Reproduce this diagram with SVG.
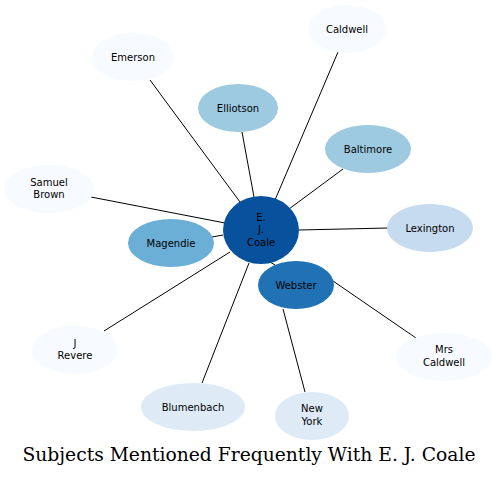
<svg xmlns="http://www.w3.org/2000/svg" width="498" height="477" viewBox="0 0 498 477">
<style>
.e{stroke:#000;stroke-width:1;fill:none}
.n text{font-family:"DejaVu Sans",sans-serif;font-size:10px;text-anchor:middle;fill:#000}
.c0{fill:#f7fbff}.c1{fill:#deebf7}.c2{fill:#c6dbef}.c3{fill:#9ecae1}.c4{fill:#6baed6}.c5{fill:#2171b5}.c6{fill:#08519c}
</style>
<rect width="498" height="477" fill="#fff"/>
<g id="edges">
<line class="e" x1="275" y1="200" x2="338" y2="52"/>
<line class="e" x1="240" y1="202" x2="150" y2="80"/>
<line class="e" x1="254" y1="197" x2="242" y2="132"/>
<line class="e" x1="289" y1="209" x2="343" y2="169"/>
<line class="e" x1="225" y1="223" x2="91" y2="197"/>
<line class="e" x1="299" y1="230" x2="388" y2="228"/>
<line class="e" x1="223" y1="235" x2="212" y2="237"/>
<line class="e" x1="230" y1="252" x2="104" y2="331"/>
<line class="e" x1="249" y1="263" x2="202" y2="383"/>
<line class="e" x1="270" y1="262" x2="275" y2="265"/>
<line class="e" x1="283" y1="309" x2="305" y2="392"/>
<line class="e" x1="333" y1="281" x2="416" y2="338"/>
</g>
<g id="caldwell" class="n"><ellipse class="c0" cx="347" cy="29" rx="39" ry="24"/><text x="347" y="32.5">Caldwell</text></g>
<g id="emerson" class="n"><ellipse class="c0" cx="133" cy="57" rx="41" ry="24"/><text x="133" y="60.5">Emerson</text></g>
<g id="elliotson" class="n"><ellipse class="c3" cx="238" cy="108" rx="40" ry="24"/><text x="238" y="111.5">Elliotson</text></g>
<g id="baltimore" class="n"><ellipse class="c3" cx="368" cy="149" rx="43" ry="24"/><text x="368" y="152.5">Baltimore</text></g>
<g id="samuel-brown" class="n"><ellipse class="c0" cx="49" cy="189" rx="45" ry="24"/><text x="49" y="186">Samuel</text><text x="49" y="198">Brown</text></g>
<g id="lexington" class="n"><ellipse class="c2" cx="430" cy="228" rx="43" ry="24"/><text x="430" y="231.5">Lexington</text></g>
<g id="magendie" class="n"><ellipse class="c4" cx="171" cy="243" rx="43" ry="24"/><text x="171" y="246.5">Magendie</text></g>
<g id="coale" class="n"><ellipse class="c6" cx="261" cy="230" rx="38" ry="34"/><text x="261" y="220.5">E.</text><text x="261" y="233">J.</text><text x="261" y="245.5">Coale</text></g>
<g id="webster" class="n"><ellipse class="c5" cx="296" cy="285" rx="38" ry="24"/><text x="296" y="288.5">Webster</text></g>
<g id="j-revere" class="n"><ellipse class="c0" cx="75" cy="350" rx="43" ry="24"/><text x="75" y="347">J</text><text x="75" y="359">Revere</text></g>
<g id="mrs-caldwell" class="n"><ellipse class="c0" cx="444" cy="357" rx="48" ry="24"/><text x="444" y="353">Mrs</text><text x="444" y="366">Caldwell</text></g>
<g id="blumenbach" class="n"><ellipse class="c1" cx="193" cy="407" rx="52" ry="24"/><text x="193" y="410.5">Blumenbach</text></g>
<g id="new-york" class="n"><ellipse class="c1" cx="312" cy="416" rx="37" ry="24"/><text x="312" y="412">New</text><text x="312" y="425">York</text></g>
<text x="249" y="461" font-family="'DejaVu Serif',serif" font-size="18" text-anchor="middle" textLength="453" lengthAdjust="spacingAndGlyphs" fill="#000">Subjects Mentioned Frequently With E. J. Coale</text>
</svg>
